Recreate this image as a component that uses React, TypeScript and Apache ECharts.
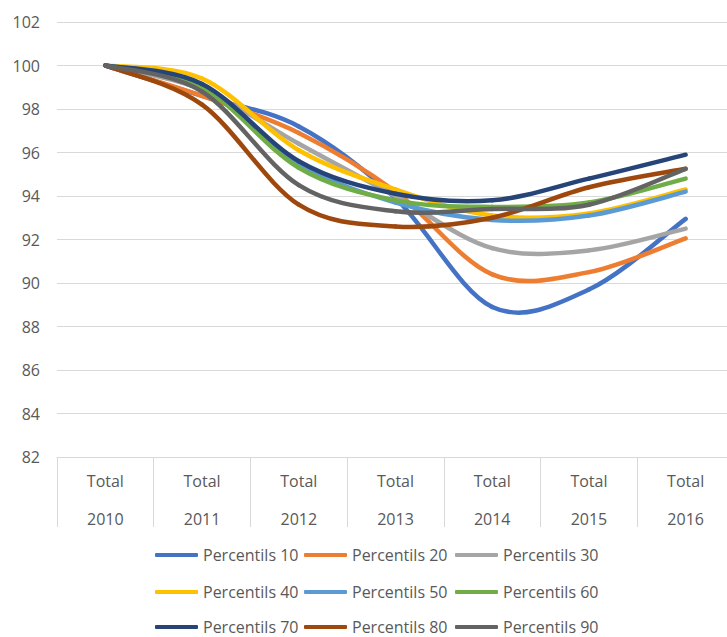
import React, { useEffect, useRef } from "react";
import * as echarts from "echarts";

const years = ["2010", "2011", "2012", "2013", "2014", "2015", "2016"];
const categoryPrefix = "Total";
const seriesNames = [
  "Percentils 10",
  "Percentils 20",
  "Percentils 30",
  "Percentils 40",
  "Percentils 50",
  "Percentils 60",
  "Percentils 70",
  "Percentils 80",
  "Percentils 90",
];
const p10 = [100, 98.6, 97.2, 93.9, 88.9, 89.7, 92.95];
const p20 = [100, 98.6, 96.9, 94.2, 90.4, 90.5, 92.05];
const p30 = [100, 98.9, 96.4, 94.0, 91.6, 91.5, 92.5];
const p40 = [100, 99.4, 96.1, 94.3, 93.1, 93.2, 94.3];
const p50 = [100, 99.1, 95.5, 93.7, 92.9, 93.1, 94.2];
const p60 = [100, 99.0, 95.3, 93.8, 93.5, 93.7, 94.8];
const p70 = [100, 99.15, 95.6, 94.1, 93.8, 94.8, 95.9];
const p80 = [100, 98.2, 93.6, 92.6, 93.0, 94.4, 95.25];
const p90 = [100, 98.8, 94.5, 93.3, 93.4, 93.6, 95.25];
const seriesValues = [p10, p20, p30, p40, p50, p60, p70, p80, p90];
const colors = [
  "#4472C4",
  "#ED7D31",
  "#A5A5A5",
  "#FFC000",
  "#5B9BD5",
  "#70AD47",
  "#264478",
  "#9E480E",
  "#636363",
];

const FONT = "'Open Sans', sans-serif";
const TEXT = "#595959";
const LINE_W = 4.5;

function makeRenderItem(values: number[], color: string) {
  return (params: any, api: any) => {
    const i = params.dataIndex;
    const n = values.length;
    if (i >= n - 1) return { type: "group", children: [] };
    const pt = (k: number) => {
      const kk = Math.max(0, Math.min(n - 1, k));
      return api.coord([kk, values[kk]]);
    };
    const p0 = pt(i - 1);
    const p1 = pt(i);
    const p2 = pt(i + 1);
    const p3 = pt(i + 2);
    return {
      type: "bezierCurve",
      shape: {
        x1: p1[0],
        y1: p1[1],
        x2: p2[0],
        y2: p2[1],
        cpx1: p1[0] + (p2[0] - p0[0]) / 6,
        cpy1: p1[1] + (p2[1] - p0[1]) / 6,
        cpx2: p2[0] - (p3[0] - p1[0]) / 6,
        cpy2: p2[1] - (p3[1] - p1[1]) / 6,
      },
      style: { stroke: color, lineWidth: LINE_W, fill: null, lineCap: "round" },
    };
  };
}

export default function App() {
  const ref = useRef<HTMLDivElement>(null);
  useEffect(() => {
    if (!ref.current) return;
    const chart = echarts.init(ref.current, null, { renderer: "svg" });
    const legendCols = [155, 304, 455];
    const legendRows = [547, 584, 619];
    const legends = seriesNames.map((name, i) => ({
      show: true,
      data: [name],
      left: legendCols[i % 3],
      top: legendRows[Math.floor(i / 3)],
      icon: "roundRect",
      itemWidth: 43,
      itemHeight: 4,
      padding: 0,
      textStyle: { color: TEXT, fontSize: 16, fontFamily: FONT, lineHeight: 16 },
    }));
    chart.setOption({
      animation: false,
      color: colors,
      textStyle: { fontFamily: FONT },
      grid: { left: 57, right: 0, top: 22, bottom: 180, containLabel: false },
      legend: legends,
      xAxis: {
        type: "category",
        data: years.map((y) => `${categoryPrefix}\n${y}`),
        boundaryGap: true,
        axisLine: { show: true, lineStyle: { color: "#d9d9d9", width: 1 } },
        axisTick: {
          show: true,
          length: 70,
          alignWithLabel: false,
          lineStyle: { color: "#d9d9d9", width: 1 },
        },
        axisLabel: {
          color: TEXT,
          fontSize: 16,
          fontFamily: FONT,
          lineHeight: 38,
          margin: 5,
        },
      },
      yAxis: {
        type: "value",
        min: 82,
        max: 102,
        interval: 2,
        axisLine: { show: false },
        axisTick: { show: false },
        splitLine: { lineStyle: { color: "#d9d9d9", width: 1 } },
        axisLabel: { color: TEXT, fontSize: 16, fontFamily: FONT, margin: 17 },
      },
      series: seriesNames.map((name, i) => ({
        name,
        type: "custom",
        data: seriesValues[i].map((v, k) => [k, v]),
        encode: { x: 0, y: 1 },
        renderItem: makeRenderItem(seriesValues[i], colors[i]),
        itemStyle: { color: colors[i] },
        z: 2 + i,
      })),
    });
    return () => chart.dispose();
  }, []);
  return (
    <div style={{ position: "absolute", left: 0, top: 0, width: 727, height: 637, overflow: "hidden" }}>
      <div ref={ref} style={{ width: 734, height: 637 }} />
    </div>
  );
}
